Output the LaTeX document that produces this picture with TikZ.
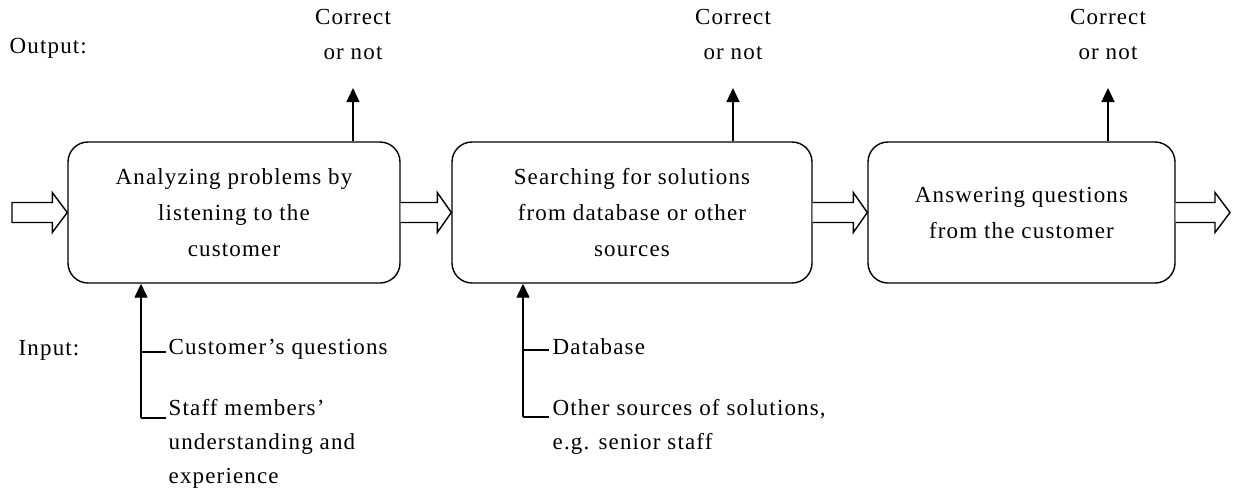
\documentclass[tikz,border=0pt]{standalone}
\usepackage{fontspec}
\setmainfont{Liberation Serif}[LetterSpace=5]
\usetikzlibrary{arrows.meta,calc}
\begin{document}
\begin{tikzpicture}[x=1pt,y=-1pt,line width=1.4pt,
  box/.style={draw,rounded corners=20pt,minimum height=141pt,align=center,
    font=\fontsize{23}{36}\selectfont,inner sep=0pt},
  lbl/.style={font=\fontsize{23}{34}\selectfont,inner sep=0pt,align=left},
  outlbl/.style={font=\fontsize{23}{35}\selectfont,inner sep=0pt,align=center},
  tip/.style={-{Triangle[length=14pt,width=13pt]}},
  hollow/.style={draw,fill=white,line join=miter}]
\useasboundingbox (0,0) rectangle (1243,499);

% boxes
\node[box,minimum width=332pt] (b1) at (234,212.5) {Analyzing problems by\\listening to the\\customer};
\node[box,minimum width=360pt] (b2) at (632,212.5) {Searching for solutions\\from database or other\\sources};
\node[box,minimum width=307pt] (b3) at (1021.5,212.5) {Answering questions\\from the customer};

% labels
\node[lbl,anchor=west] (outl) at (9,48) {Output:};
\node[lbl,anchor=west] (inl) at (18,350) {Input:};

% outputs
\node[outlbl] (c1) at (353,34.5) {Correct\\or not};
\node[outlbl] (c2) at (733,34.5) {Correct\\or not};
\node[outlbl] (c3) at (1108,34.5) {Correct\\or not};
\coordinate (o1) at (353,88);
\coordinate (o2) at (733,88);
\coordinate (o3) at (1108,88);
\draw[tip] (b1.north -| o1) -- (o1);
\draw[tip] (b2.north -| o2) -- (o2);
\draw[tip] (b3.north -| o3) -- (o3);

% block arrows
\coordinate (s0) at (12,212.5);
\coordinate (e3) at (1230,212.5);
\draw[hollow] ($(s0)+(0,-10)$) -- ($(b1.west)+(-15,-10)$) -- ($(b1.west)+(-15,-20)$) -- (b1.west)
  -- ($(b1.west)+(-15,20)$) -- ($(b1.west)+(-15,10)$) -- ($(s0)+(0,10)$) -- cycle;
\draw[hollow] ($(b1.east)+(0,-10)$) -- ($(b2.west)+(-14,-10)$) -- ($(b2.west)+(-14,-20)$) -- (b2.west)
  -- ($(b2.west)+(-14,20)$) -- ($(b2.west)+(-14,10)$) -- ($(b1.east)+(0,10)$);
\draw[hollow] ($(b2.east)+(0,-10)$) -- ($(b3.west)+(-14,-10)$) -- ($(b3.west)+(-14,-20)$) -- (b3.west)
  -- ($(b3.west)+(-14,20)$) -- ($(b3.west)+(-14,10)$) -- ($(b2.east)+(0,10)$);
\draw[hollow] ($(b3.east)+(0,-10)$) -- ($(e3)+(-15,-10)$) -- ($(e3)+(-15,-20)$) -- (e3)
  -- ($(e3)+(-15,20)$) -- ($(e3)+(-15,10)$) -- ($(b3.east)+(0,10)$);

% inputs of box 1
\node[lbl,anchor=west] (q1) at (168,349) {Customer’s questions};
\node[lbl,anchor=west] (q2) at (168,444) {Staff members’\\understanding and\\experience};
\coordinate (k1) at (141,418);
\coordinate (k1a) at (141,352);
\draw[tip] (k1) -- (k1 |- b1.south);
\draw (k1a) -- ++(25,0);
\draw (k1) -- ++(25,0);

% inputs of box 2
\node[lbl,anchor=west] (d1) at (552,347) {Database};
\node[lbl,anchor=west] (d2) at (552,427) {Other sources of solutions,\\e.g. senior staff};
\coordinate (k2) at (523,417);
\coordinate (k2a) at (523,350);
\draw[tip] (k2) -- (k2 |- b2.south);
\draw (k2a) -- ++(26,0);
\draw (k2) -- ++(26,0);
\end{tikzpicture}
\end{document}
